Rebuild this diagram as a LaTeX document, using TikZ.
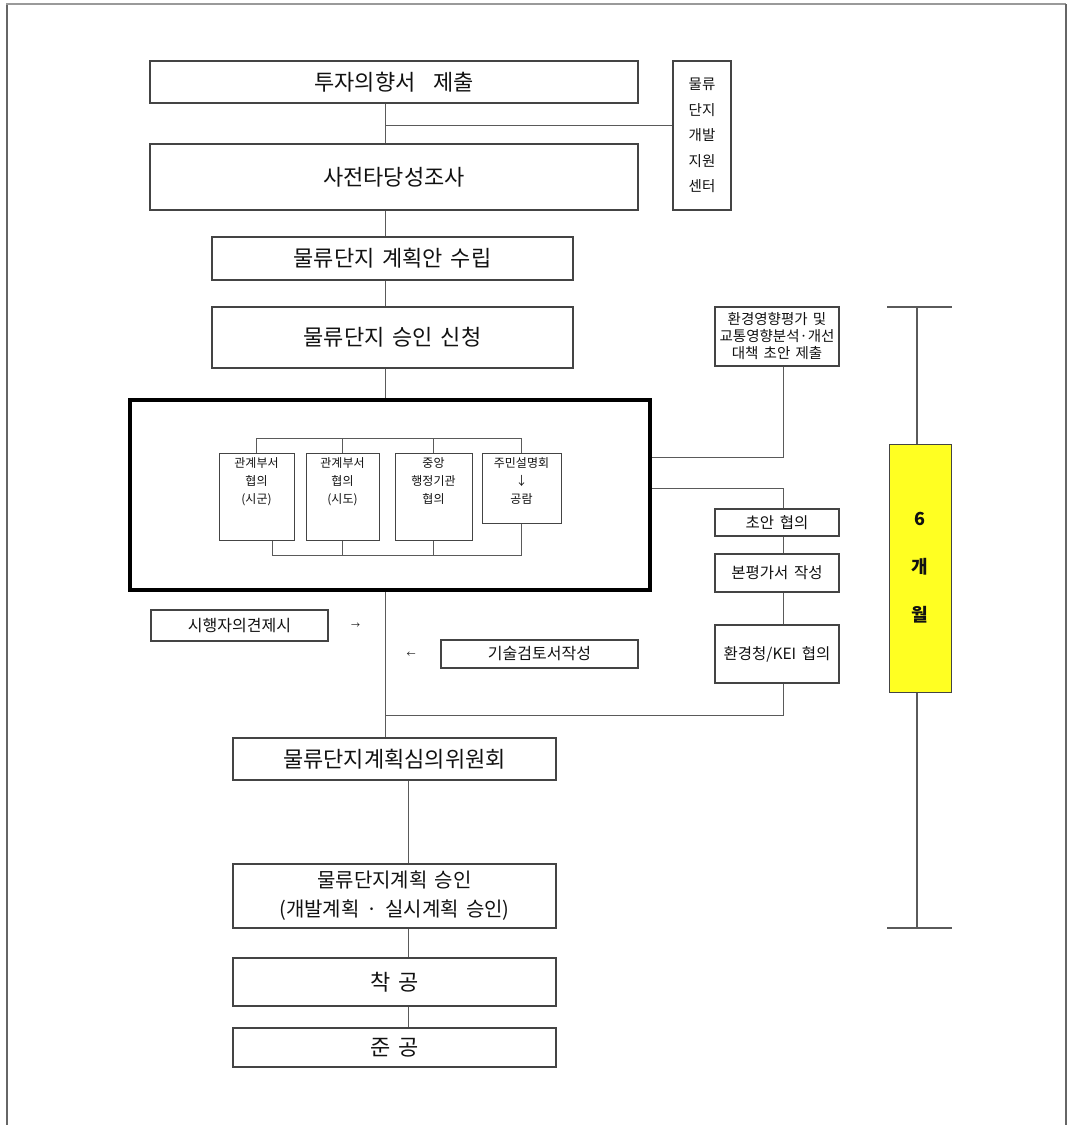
\documentclass[tikz,border=0pt]{standalone}
\usepackage{fontspec}
\setmainfont[WordSpace=1.6]{Noto Sans CJK KR}
\definecolor{boxline}{HTML}{444444}
\definecolor{connline}{HTML}{5A5A5A}
\definecolor{txt}{HTML}{111111}
\definecolor{yel}{HTML}{FFFF22}
\definecolor{framec}{HTML}{666666}
\definecolor{frametop}{HTML}{9A9A9A}
\newcommand\fsz[2]{\fontsize{#1}{#2}\selectfont}
\newcommand\topbox[3]{\parbox[c][#2][t]{#1}{\centering\vspace*{5pt}#3\par}}
\begin{document}
\begin{tikzpicture}[x=1pt,y=-1pt,
  box/.style={draw=boxline, line width=1.1pt, inner sep=0pt, align=center, text=txt},
  subbox/.style={draw=boxline, line width=1pt, inner sep=0pt, text=txt, font=\fsz{12}{18}},
  conn/.style={draw=connline, line width=1pt},
  tl/.style={draw=connline, line width=1.2pt},
  big/.style={font=\fsz{22}{26}},
  mid/.style={font=\fsz{15.5}{19}},
]
\useasboundingbox (0,0) rectangle (1067,1125);
% outer frame
\draw[framec, line width=2pt] (7,1125) -- (7,4);
\draw[frametop, line width=2pt] (6,4) -- (1066,4);
\draw[framec, line width=2pt] (1066,4) -- (1066,1125);

% main column
\node[box, big, minimum width=488, minimum height=42] (b1) at (394,82) {투자의향서\hspace{0.8em}제출};
\node[box, big, minimum width=488, minimum height=66] (b2) at (394,177) {사전타당성조사};
\node[box, font=\fsz{14.5}{25.5}, minimum width=58, minimum height=149] (side) at (702,135.5) {물류\\단지\\개발\\지원\\센터};
\node[box, big, minimum width=361, minimum height=43] (b3) at (392.5,258.5) {물류단지 계획안 수립};
\node[box, big, minimum width=361, minimum height=61] (b4) at (392.5,337.5) {물류단지 승인 신청};

% grouped consultation box
\node[draw=black, line width=3.5pt, minimum width=520, minimum height=190, inner sep=0pt] (grp) at (390,495) {};
\node[subbox] (s1) at (256.5,496.5) {\topbox{75pt}{87pt}{관계부서\\협의\\(시군)}};
\node[subbox] (s2) at (342.5,496.5) {\topbox{73pt}{87pt}{관계부서\\협의\\(시도)}};
\node[subbox] (s3) at (433.5,496.5) {\topbox{77pt}{87pt}{중앙\\행정기관\\협의}};
\node[subbox] (s4) at (521.5,488) {\topbox{79pt}{70pt}{주민설명회\\↓\\공람}};

% right column
\node[box, font=\fsz{14.5}{17}, minimum width=124, minimum height=59] (env) at (777,336.5) {환경영향평가 및\\교통영향분석·개선\\대책 초안 제출};
\node[box, mid, minimum width=124, minimum height=27] (ch1) at (777,522.5) {초안 협의};
\node[box, mid, minimum width=124, minimum height=38] (ch2) at (777,573) {본평가서 작성};
\node[box, mid, minimum width=124, minimum height=58] (ch3) at (777,654) {환경청/KEI 협의};

% left notes
\node[box, font=\fsz{16}{20}, minimum width=177, minimum height=31] (opin) at (239.5,625.5) {시행자의견제시};
\node[box, font=\fsz{16}{20}, minimum width=197, minimum height=28] (tech) at (539.5,654) {기술검토서작성};
\node[text=txt, font=\fsz{9}{11}] (ar1) at (355.5,626) {→};
\node[text=txt, font=\fsz{9}{11}] (ar2) at (411,655) {←};

% lower column
\node[box, big, minimum width=323, minimum height=42] (b5) at (394.5,759) {물류단지계획심의위원회};
\node[box, font=\fsz{20}{29}, minimum width=323, minimum height=64] (b6) at (394.5,896) {물류단지계획 승인\\(개발계획 · 실시계획 승인)};
\node[box, big, minimum width=323, minimum height=48] (b7) at (394.5,982) {착 공};
\node[box, big, minimum width=323, minimum height=39] (b8) at (394.5,1047.5) {준 공};

% timeline
\node[draw=boxline, fill=yel, line width=1pt, minimum width=62, minimum height=248, inner sep=0pt, align=center, text=txt, font=\fsz{18}{48}\bfseries] (yel) at (920,568) {6\\개\\월};
\coordinate (tlt) at (917,307);
\coordinate (tlb) at (917,928);
\draw[tl] (tlt) -- (yel.north -| tlt);
\draw[tl] (yel.south -| tlt) -- (tlb);
\draw[tl] ([xshift=-30pt]tlt) -- ([xshift=35pt]tlt);
\draw[tl] ([xshift=-30pt]tlb) -- ([xshift=35pt]tlb);

% helper coordinates
\coordinate (sp) at (385,0);
\coordinate (lc) at (408,0);
\coordinate (rc) at (783,0);
\coordinate (br) at (385,125);
\coordinate (bust) at (0,438);
\coordinate (busb) at (0,555);
\coordinate (y457) at (0,457);
\coordinate (y488) at (0,488);
\coordinate (y715) at (0,715);
\coordinate (s1b) at ([xshift=15.5pt]s1.south);

% main connectors
\draw[conn] (b1.south -| sp) -- (b2.north -| sp);
\draw[conn] (br) -- (br -| side.west);
\draw[conn] (b2.south -| sp) -- (b3.north -| sp);
\draw[conn] (b3.south -| sp) -- (b4.north -| sp);
\draw[conn] (b4.south -| sp) -- (grp.north -| sp);
\draw[conn] (grp.south -| sp) -- (b5.north -| sp);
\draw[conn] (b5.south -| lc) -- (b6.north -| lc);
\draw[conn] (b6.south -| lc) -- (b7.north -| lc);
\draw[conn] (b7.south -| lc) -- (b8.north -| lc);

% inner buses
\draw[conn] (s1.north) -- (s1.north |- bust) -- (s4.north |- bust) -- (s4.north);
\draw[conn] (s2.north) -- (s2.north |- bust);
\draw[conn] (s3.north) -- (s3.north |- bust);
\draw[conn] (s1b) -- (s1b |- busb) -- (s4.south |- busb) -- (s4.south);
\draw[conn] (s2.south) -- (s2.south |- busb);
\draw[conn] (s3.south) -- (s3.south |- busb);

% right connectors
\draw[conn] (env.south -| rc) -- (rc |- y457) -- (grp.east |- y457);
\draw[conn] (grp.east |- y488) -- (rc |- y488) -- (ch1.north -| rc);
\draw[conn] (ch1.south -| rc) -- (ch2.north -| rc);
\draw[conn] (ch2.south -| rc) -- (ch3.north -| rc);
\draw[conn] (ch3.south -| rc) -- (rc |- y715) -- (sp |- y715);
\end{tikzpicture}
\end{document}
